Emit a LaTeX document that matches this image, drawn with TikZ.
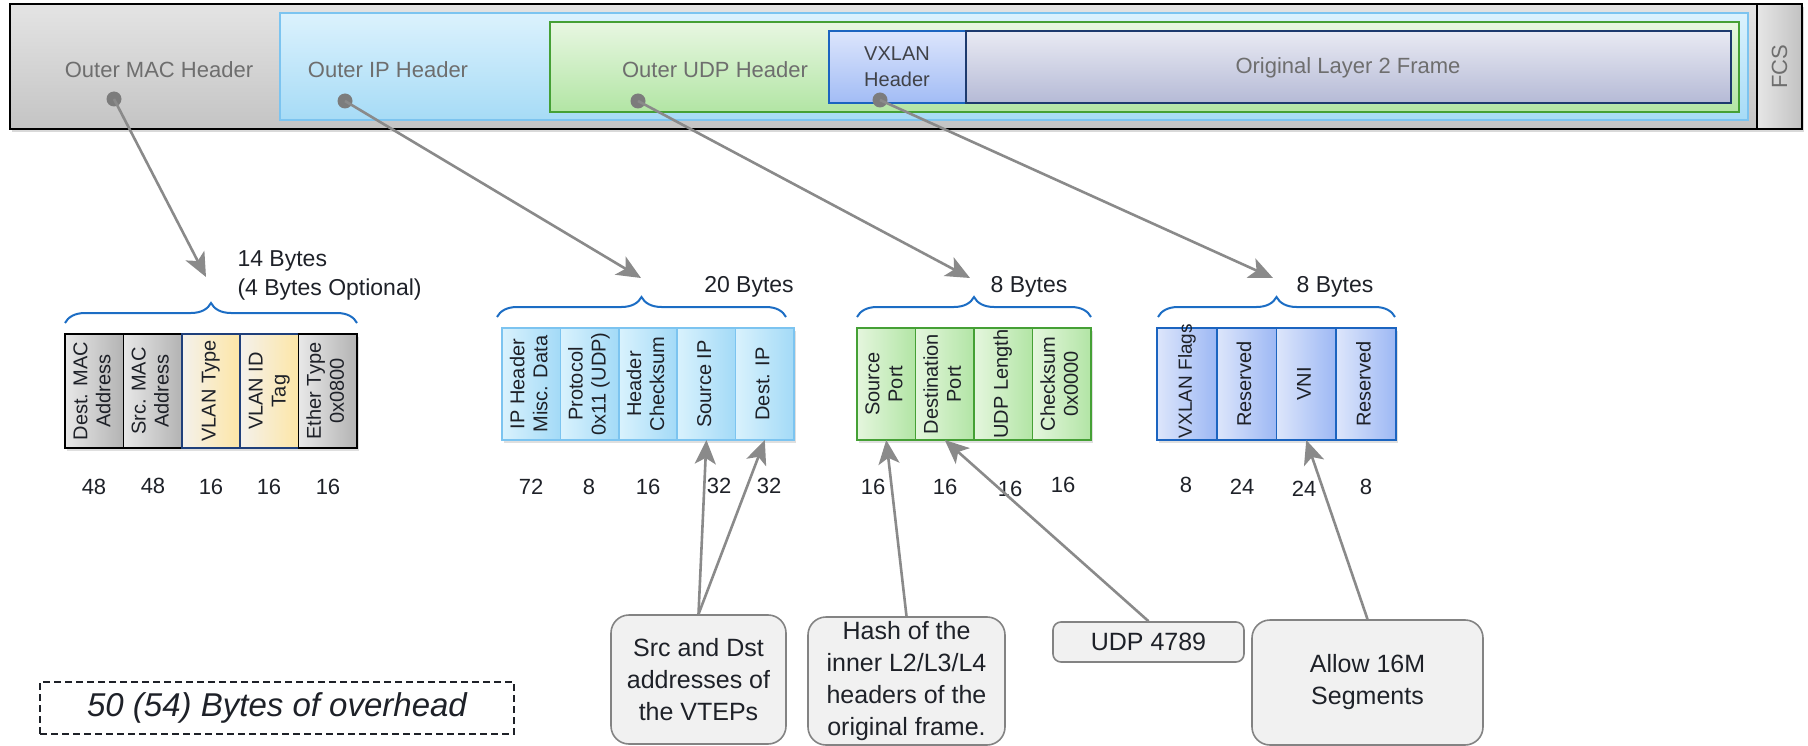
\documentclass[tikz,border=0pt]{standalone}
\usepackage{fontspec, graphicx}
\setmainfont{Liberation Sans}
\usetikzlibrary{positioning, arrows.meta, shadows, decorations.pathreplacing}

\definecolor{ink}{HTML}{1E2128}
\definecolor{hdrtxt}{HTML}{6E6E6E}
\definecolor{ptrgray}{HTML}{8A8A8A}
\definecolor{brblue}{HTML}{1C6DC4}
\definecolor{ipline}{HTML}{7CC4F0}
\definecolor{udpline}{HTML}{45A035}
\definecolor{vxline}{HTML}{1B64C0}
\definecolor{l2line}{HTML}{1D3A6E}
\definecolor{vlanline}{HTML}{1F3F7A}

\newcommand{\vt}[1]{\rotatebox{90}{\begin{tabular}{@{}c@{}}#1\end{tabular}}}

\tikzset{ hdr/.style = { draw
                       , inner sep    = 0pt
                       , outer sep    = 0pt
                       , line width   = 2pt
                       },
          hdrlbl/.style = { text = hdrtxt
                          , font = \fontsize{22}{26}\selectfont
                          , align = center
                          },
          hdrdot/.style = { circle
                          , fill = ptrgray!90!black
                          , inner sep    = 0pt
                          , minimum size = 15pt
                          },
          fld/.style = { draw
                       , line width   = 1.6pt
                       , inner sep    = 0pt
                       , outer sep    = 0pt
                       , minimum width  = 58.4pt
                       , minimum height = 112pt
                       , text = ink
                       , font = \fontsize{20}{23}\selectfont
                       , drop shadow = {opacity=0.25, shadow xshift=2pt, shadow yshift=-3pt}
                       },
          mac/.style  = { fld, draw = black, minimum height = 114pt
                        , left color = {rgb,255:red,232;green,232;blue,232}
                        , right color = {rgb,255:red,179;green,179;blue,179} },
          vlan/.style = { fld, draw = vlanline, minimum height = 114pt
                        , left color = {rgb,255:red,244;green,241;blue,236}
                        , right color = {rgb,255:red,253;green,230;blue,166} },
          ipf/.style  = { fld, draw = ipline
                        , left color = {rgb,255:red,217;green,242;blue,253}
                        , right color = {rgb,255:red,163;green,218;blue,247} },
          udpf/.style = { fld, draw = udpline, minimum width = 58.5pt
                        , left color = {rgb,255:red,229;green,246;blue,222}
                        , right color = {rgb,255:red,178;green,229;blue,165} },
          vxf/.style  = { fld, draw = vxline, minimum width = 59.7pt
                        , left color = {rgb,255:red,221;green,230;blue,251}
                        , right color = {rgb,255:red,157;green,184;blue,244} },
          bits/.style = { text = ink
                        , font = \fontsize{22}{26}\selectfont
                        },
          bytes/.style = { text = ink
                         , font = \fontsize{23}{29}\selectfont
                         , align = left
                         },
          brc/.style = { draw = brblue
                       , line width = 2pt
                       , decorate
                       , decoration = {brace, amplitude=20pt}
                       },
          ptr/.style = { draw = ptrgray
                       , line width = 2.6pt
                       , -{Stealth[length=24pt, width=21pt, inset=6pt]}
                       },
          note/.style = { draw = ptrgray!95!black
                        , fill = gray!11
                        , line width = 1.6pt
                        , rounded corners = 18pt
                        , text = ink
                        , align = center
                        , font = \fontsize{25}{32}\selectfont
                        }
        }

\begin{document}
\begin{tikzpicture}
    [x=1pt, y=-1pt]
    \useasboundingbox (0,0) rectangle (1808,746);

    % encapsulated frame
    \node[hdr, top color={rgb,255:red,228;green,228;blue,228}, bottom color={rgb,255:red,196;green,196;blue,196},
          minimum width=1747pt, minimum height=125pt,
          drop shadow={opacity=0.3, shadow xshift=2pt, shadow yshift=-3pt}] (mach) at (883.5,66.5) {};
    \node[hdr, left color={rgb,255:red,230;green,230;blue,230}, right color={rgb,255:red,194;green,194;blue,194},
          minimum width=45pt, minimum height=125pt,
          drop shadow={opacity=0.3, shadow xshift=2pt, shadow yshift=-3pt}] (fcs) at (1779.5,66.5) {};
    \node[hdr, draw=ipline, top color={rgb,255:red,220;green,242;blue,253}, bottom color={rgb,255:red,166;green,219;blue,246},
          minimum width=1468pt, minimum height=107pt] (iph) at (1014,66.5) {};
    \node[hdr, draw=udpline, top color={rgb,255:red,232;green,247;blue,226}, bottom color={rgb,255:red,178;green,229;blue,164},
          minimum width=1189pt, minimum height=90pt] (udph) at (1144.5,67) {};
    \node[hdr, draw=vxline, top color={rgb,255:red,220;green,229;blue,252}, bottom color={rgb,255:red,162;green,188;blue,245},
          minimum width=137pt, minimum height=72pt] (vxh) at (897.5,67) {};
    \node[hdr, draw=l2line, top color={rgb,255:red,233;green,234;blue,243}, bottom color={rgb,255:red,181;green,186;blue,214},
          minimum width=765pt, minimum height=72pt] (l2f) at (1348.5,67) {};

    \node[hdrlbl] (macl) at (159,70) {Outer MAC Header};
    \node[hdrlbl] (ipl) at (388,70) {Outer IP Header};
    \node[hdrlbl] (udpl) at (715,70) {Outer UDP Header};
    \node[hdrlbl, text=ink!85, font=\fontsize{20}{26}\selectfont] (vxl) at (897,67) {VXLAN\\Header};
    \node[hdrlbl] (l2l) at (1348,68) {Original Layer 2 Frame};
    \node[hdrlbl, rotate=90] (fcsl) at (1779.5,67) {FCS};

    \node[hdrdot] (macdot) at (114,99) {};
    \node[hdrdot] (ipdot) at (345,101) {};
    \node[hdrdot] (udpdot) at (638,101) {};
    \node[hdrdot] (vxdot) at (880,100) {};

    % outer MAC header
    \node[mac] (dmac) at (94.2,391) {\vt{Dest. MAC\\Address}};
    \node[mac, right=0pt of dmac] (smac) {\vt{Src. MAC\\Address}};
    \node[vlan, right=0pt of smac] (vtype) {\vt{VLAN Type}};
    \node[vlan, right=0pt of vtype] (vid) {\vt{VLAN ID\\Tag}};
    \node[mac, right=0pt of vid] (etype) {\vt{Ether Type\\0x0800}};

    % outer IP header
    \node[ipf] (misc) at (531.2,384) {\vt{IP Header\\Misc. Data}};
    \node[ipf, right=0pt of misc] (proto) {\vt{Protocol\\0x11 (UDP)}};
    \node[ipf, right=0pt of proto] (hcks) {\vt{Header\\Checksum}};
    \node[ipf, right=0pt of hcks] (sip) {\vt{Source IP}};
    \node[ipf, right=0pt of sip] (dip) {\vt{Dest. IP}};

    % outer UDP header
    \node[udpf] (sport) at (886.25,384) {\vt{Source\\Port}};
    \node[udpf, right=0pt of sport] (dport) {\vt{Destination\\Port}};
    \node[udpf, right=0pt of dport] (ulen) {\vt{UDP Length}};
    \node[udpf, right=0pt of ulen] (ucks) {\vt{Checksum\\0x0000}};

    % VXLAN header
    \node[vxf, font=\fontsize{19}{23}\selectfont] (flags) at (1186.85,384) {\rotatebox{90}{\makebox[108pt][l]{VXLAN Flags}}};
    \node[vxf, right=0pt of flags] (rsv1) {\vt{Reserved}};
    \node[vxf, right=0pt of rsv1] (vni) {\vt{VNI}};
    \node[vxf, right=0pt of vni] (rsv2) {\vt{Reserved}};

    % field sizes in bits
    \node[bits] (n1) at (94,487) {48};
    \node[bits] (n2) at (153,486) {48};
    \node[bits] (n3) at (211,487) {16};
    \node[bits] (n4) at (269,487) {16};
    \node[bits] (n5) at (328,487) {16};
    \node[bits] (n6) at (531,487) {72};
    \node[bits] (n7) at (589,487) {8};
    \node[bits] (n8) at (648,487) {16};
    \node[bits] (n9) at (719,486) {32};
    \node[bits] (n10) at (769,486) {32};
    \node[bits] (n11) at (873,487) {16};
    \node[bits] (n12) at (945,487) {16};
    \node[bits] (n13) at (1010,489) {16};
    \node[bits] (n14) at (1063,485) {16};
    \node[bits] (n15) at (1186,485) {8};
    \node[bits] (n16) at (1242,487) {24};
    \node[bits] (n17) at (1304,489) {24};
    \node[bits] (n18) at (1366,487) {8};

    % braces and byte counts
    \draw[brc] (65,323) -- (357,323);
    \draw[brc] (497,317) -- (786,317);
    \draw[brc] (857,317) -- (1091,317);
    \draw[brc] (1158,317) -- (1395,317);
    \node[bytes, anchor=west] (macsz) at (234,275) {14 Bytes\\(4 Bytes Optional)};
    \node[bytes] (ipsz) at (749,287) {20 Bytes};
    \node[bytes] (udpsz) at (1029,287) {8 Bytes};
    \node[bytes] (vxsz) at (1335,287) {8 Bytes};

    \coordinate (macend) at (206,277);
    \coordinate (ipend) at (641,278);
    \coordinate (udpend) at (970,278);
    \coordinate (vxend) at (1273,278);
    \draw[ptr] (macdot.center) -- (macend);
    \draw[ptr] (ipdot.center) -- (ipend);
    \draw[ptr] (udpdot.center) -- (udpend);
    \draw[ptr] (vxdot.center) -- (vxend);

    % callouts
    \node[note, minimum width=175pt, minimum height=129pt] (vtep) at (698.5,679.5) {Src and Dst\\addresses of\\the VTEPs};
    \node[note, minimum width=197pt, minimum height=128pt] (hash) at (906.5,681) {Hash of the\\inner L2/L3/L4\\headers of the\\original frame.};
    \node[note, rounded corners=8pt, minimum width=191pt, minimum height=40pt] (port) at (1148.5,642) {UDP 4789};
    \node[note, minimum width=231pt, minimum height=125pt] (seg) at (1367.5,682.5) {Allow 16M\\Segments};

    \draw[ptr] (vtep.north) -- (sip.south);
    \draw[ptr] (vtep.north) -- (dip.south);
    \draw[ptr] (hash.north) -- (sport.south);
    \draw[ptr] (port.north) -- (dport.south);
    \draw[ptr] (seg.north) -- (vni.south);

    \node[draw=ink, dashed, dash pattern=on 7pt off 4pt, line width=1.8pt, minimum width=474pt, minimum height=52pt,
          text=ink, font=\fontsize{33}{38}\selectfont\itshape] (total) at (277,708) {50 (54) Bytes of overhead};
\end{tikzpicture}
\end{document}
